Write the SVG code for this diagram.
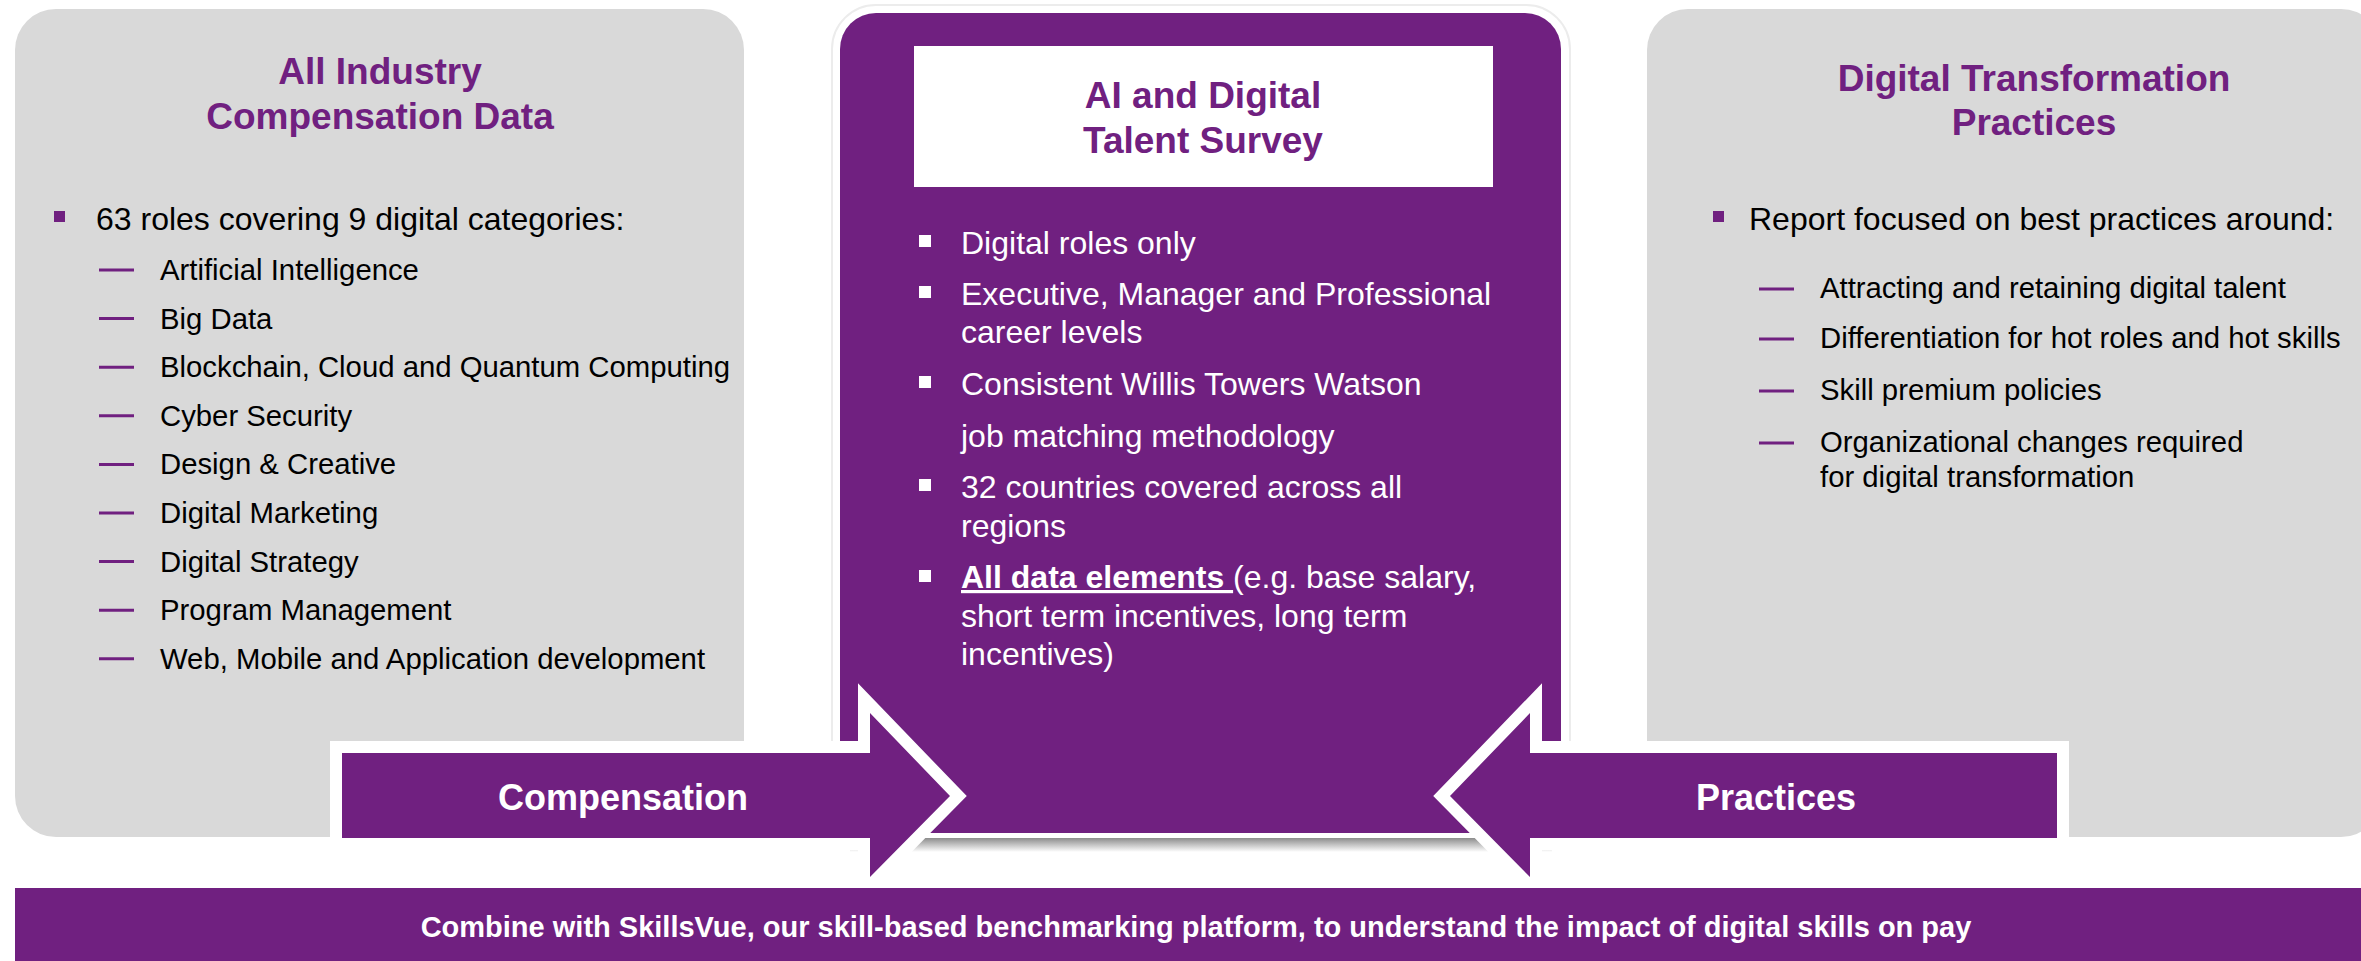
<svg xmlns="http://www.w3.org/2000/svg" width="2361" height="961" viewBox="0 0 2361 961">
<defs>
<linearGradient id="shadowGrad" x1="0" y1="0" x2="0" y2="1">
<stop offset="0" stop-color="#8c8c8c"/>
<stop offset="1" stop-color="#ffffff"/>
</linearGradient>
<style>
.panel{fill:#D9D9D9}
.purple{fill:#702080}
.title{font-family:"Liberation Sans",Arial,sans-serif;font-weight:bold;font-size:37px;fill:#702080;text-anchor:middle}
.b1{font-family:"Liberation Sans",Arial,sans-serif;font-size:32px;fill:#000}
.b2{font-family:"Liberation Sans",Arial,sans-serif;font-size:29.3px;fill:#000}
.w1{font-family:"Liberation Sans",Arial,sans-serif;font-size:32px;fill:#fff}
.sq{fill:#702080}
.sqw{fill:#fff}
.dash{stroke:#702080;stroke-width:3}
.arrow{fill:#702080;stroke:#fff;stroke-width:24;stroke-linejoin:miter;stroke-miterlimit:6;paint-order:stroke fill}
.alabel{font-family:"Liberation Sans",Arial,sans-serif;font-weight:bold;font-size:36px;fill:#fff;text-anchor:middle}
.bottom{font-family:"Liberation Sans",Arial,sans-serif;font-weight:bold;font-size:29px;fill:#fff;text-anchor:middle}
</style>
</defs>
<rect width="2361" height="961" fill="#fff"/>

<g id="left-panel">
<rect class="panel" x="15" y="9" width="729" height="828" rx="41" ry="41"/>
<text class="title" x="380" y="84">All Industry</text>
<text class="title" x="380" y="129">Compensation Data</text>
<rect class="sq" x="54" y="211" width="11" height="11"/>
<text class="b1" x="96" y="230">63 roles covering 9 digital categories:</text>
<g>
<line class="dash" x1="99" y1="270" x2="134" y2="270"/>
<text class="b2" x="160" y="280">Artificial Intelligence</text>
<line class="dash" x1="99" y1="318.6" x2="134" y2="318.6"/>
<text class="b2" x="160" y="328.6">Big Data</text>
<line class="dash" x1="99" y1="367.2" x2="134" y2="367.2"/>
<text class="b2" x="160" y="377.2">Blockchain, Cloud and Quantum Computing</text>
<line class="dash" x1="99" y1="415.8" x2="134" y2="415.8"/>
<text class="b2" x="160" y="425.8">Cyber Security</text>
<line class="dash" x1="99" y1="464.4" x2="134" y2="464.4"/>
<text class="b2" x="160" y="474.4">Design &amp; Creative</text>
<line class="dash" x1="99" y1="513" x2="134" y2="513"/>
<text class="b2" x="160" y="523">Digital Marketing</text>
<line class="dash" x1="99" y1="561.6" x2="134" y2="561.6"/>
<text class="b2" x="160" y="571.6">Digital Strategy</text>
<line class="dash" x1="99" y1="610.2" x2="134" y2="610.2"/>
<text class="b2" x="160" y="620.2">Program Management</text>
<line class="dash" x1="99" y1="658.8" x2="134" y2="658.8"/>
<text class="b2" x="160" y="668.8">Web, Mobile and Application development</text>
</g>
</g>

<g id="right-panel">
<rect class="panel" x="1647" y="9" width="735" height="828" rx="41" ry="41"/>
<text class="title" x="2034" y="91">Digital Transformation</text>
<text class="title" x="2034" y="135">Practices</text>
<rect class="sq" x="1713" y="211" width="11" height="11"/>
<text class="b1" x="1749" y="230">Report focused on best practices around:</text>
<line class="dash" x1="1759" y1="289" x2="1794" y2="289"/>
<text class="b2" x="1820" y="298">Attracting and retaining digital talent</text>
<line class="dash" x1="1759" y1="339" x2="1794" y2="339"/>
<text class="b2" x="1820" y="348">Differentiation for hot roles and hot skills</text>
<line class="dash" x1="1759" y1="391" x2="1794" y2="391"/>
<text class="b2" x="1820" y="400">Skill premium policies</text>
<line class="dash" x1="1759" y1="443" x2="1794" y2="443"/>
<text class="b2" x="1820" y="452">Organizational changes required</text>
<text class="b2" x="1820" y="487">for digital transformation</text>
</g>

<g id="center-panel">
<rect x="832" y="5" width="738" height="838" rx="44" ry="44" fill="#fff" stroke="#ececec" stroke-width="2"/>
<rect x="850" y="838" width="702" height="14" fill="url(#shadowGrad)"/>
<path class="purple" d="M840,49 A36,36 0 0 1 876,13 L1525,13 A36,36 0 0 1 1561,49 L1561,833 L840,833 Z"/>
<rect x="914" y="46" width="579" height="141" fill="#fff"/>
<text class="title" x="1203" y="108">AI and Digital</text>
<text class="title" x="1203" y="153">Talent Survey</text>
<rect class="sqw" x="919" y="235" width="12" height="12"/>
<text class="w1" x="961" y="254">Digital roles only</text>
<rect class="sqw" x="919" y="286" width="12" height="12"/>
<text class="w1" x="961" y="305">Executive, Manager and Professional</text>
<text class="w1" x="961" y="343">career levels</text>
<rect class="sqw" x="919" y="376" width="12" height="12"/>
<text class="w1" x="961" y="395">Consistent Willis Towers Watson</text>
<text class="w1" x="961" y="447">job matching methodology</text>
<rect class="sqw" x="919" y="479" width="12" height="12"/>
<text class="w1" x="961" y="498">32 countries covered across all</text>
<text class="w1" x="961" y="537">regions</text>
<rect class="sqw" x="919" y="570" width="12" height="12"/>
<text class="w1" x="961" y="588"><tspan font-weight="bold" text-decoration="underline">All data elements </tspan>(e.g. base salary,</text>
<text class="w1" x="961" y="627">short term incentives, long term</text>
<text class="w1" x="961" y="665">incentives)</text>
</g>

<g id="connectors">
<g id="arrow-compensation">
<polygon class="arrow" points="342,753 870,753 870,713 950,796 870,877 870,838 342,838"/>
<text class="alabel" x="623" y="810">Compensation</text>
</g>
<g id="arrow-practices">
<polygon class="arrow" points="2057,753 1530,753 1530,713 1450,796 1530,877 1530,838 2057,838"/>
<text class="alabel" x="1776" y="810">Practices</text>
</g>
</g>

<g id="bottom-bar">
<rect class="purple" x="15" y="888" width="2346" height="73"/>
<text class="bottom" x="1196" y="937">Combine with SkillsVue, our skill-based benchmarking platform, to understand the impact of digital skills on pay</text>
</g>
</svg>
